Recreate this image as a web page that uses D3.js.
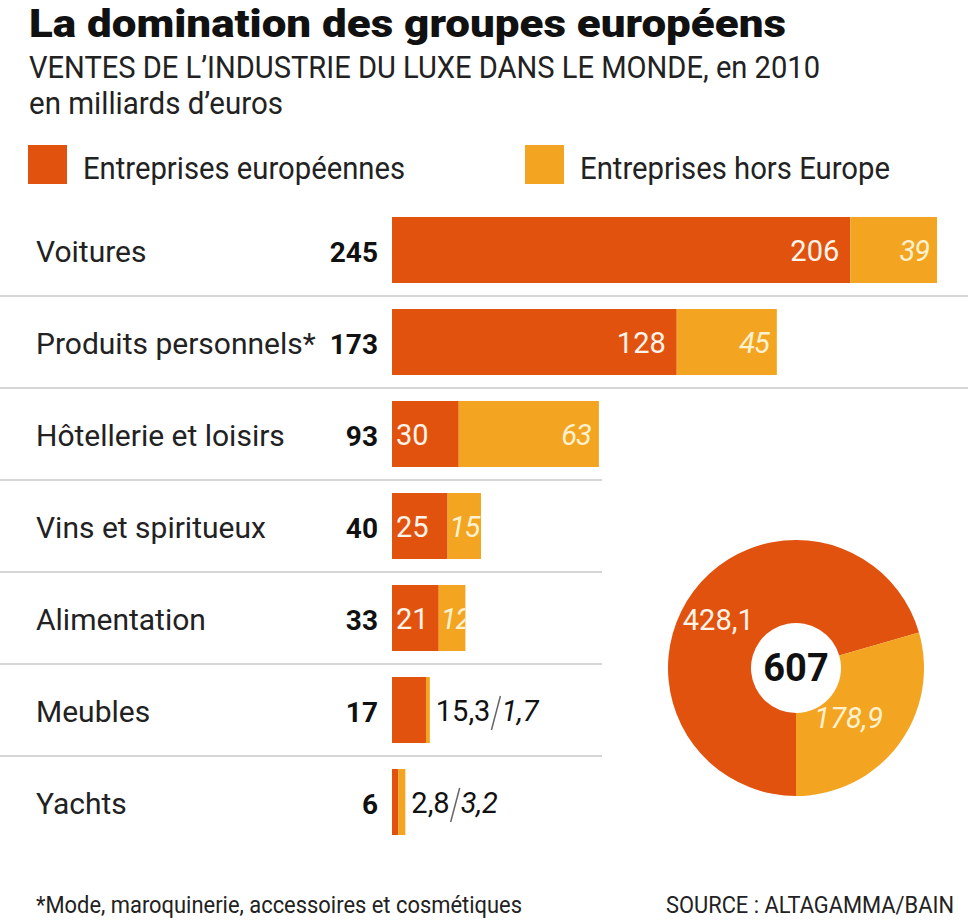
<!DOCTYPE html>
<html>
<head>
<meta charset="utf-8">
<script src="https://cdn.jsdelivr.net/npm/d3@7"></script>
<style>
  body { margin: 0; background: #fff; }
  svg text { font-family: Roboto, "Liberation Sans", sans-serif; }
</style>
</head>
<body>
<svg id="chart" width="968" height="921"></svg>
<script>
// data (milliards d'euros, 2010)
var categories = ["Voitures", "Produits personnels*", "Hôtellerie et loisirs", "Vins et spiritueux", "Alimentation", "Meubles", "Yachts"];
var totals = [245, 173, 93, 40, 33, 17, 6];
var europe = [206, 128, 30, 25, 21, 15.3, 2.8];
var horsEurope = [39, 45, 63, 15, 12, 1.7, 3.2];
var seriesNames = ["Entreprises européennes", "Entreprises hors Europe"];
var donutValues = [428.1, 178.9];
var donutTotal = 607;

var orange = "#e2520f", yellow = "#f3a521";
var fr = d3.formatLocale({decimal: ",", thousands: " ", grouping: [3], currency: ["", " €"]});
var fmt = function(v) { return Number.isInteger(v) ? String(v) : fr.format(".1f")(v); };

var svg = d3.select("#chart");

// header
svg.append("text").attr("x", 29).attr("y", 37)
    .attr("font-size", 38).attr("font-weight", 900).attr("fill", "#111")
    .attr("textLength", 757).attr("lengthAdjust", "spacingAndGlyphs")
    .text("La domination des groupes européens");
svg.append("text").attr("x", 29).attr("y", 78)
    .attr("font-size", 32).attr("fill", "#222")
    .attr("textLength", 791).attr("lengthAdjust", "spacingAndGlyphs")
    .text("VENTES DE L\u2019INDUSTRIE DU LUXE DANS LE MONDE, en 2010");
svg.append("text").attr("x", 29).attr("y", 114)
    .attr("font-size", 32).attr("fill", "#222")
    .attr("textLength", 254).attr("lengthAdjust", "spacingAndGlyphs")
    .text("en milliards d\u2019euros");

// legend
var legendX = [28, 525], legendW = [322, 310];
var legend = svg.selectAll("g.legend").data(seriesNames).enter().append("g")
    .attr("class", "legend")
    .attr("transform", function(d, i) { return "translate(" + legendX[i] + ",145)"; });
legend.append("rect").attr("width", 39).attr("height", 39)
    .attr("fill", function(d, i) { return i ? yellow : orange; });
legend.append("text").attr("x", 55).attr("y", 34)
    .attr("font-size", 31).attr("fill", "#222")
    .attr("textLength", function(d, i) { return legendW[i]; })
    .attr("lengthAdjust", "spacingAndGlyphs")
    .text(function(d) { return d; });

// scales
var x = d3.scaleLinear().domain([0, 245]).range([392, 937]);
var y = d3.scaleBand().domain(categories).range([204, 848])
    .paddingInner(26 / 92).paddingOuter(13 / 92);

var rows = categories.map(function(c, i) {
  return {cat: c, total: totals[i], eu: europe[i], he: horsEurope[i], i: i};
});

// separators (shorter next to the donut)
svg.selectAll("line.sep").data(rows.slice(0, 6)).enter().append("line")
    .attr("class", "sep")
    .attr("x1", 0)
    .attr("x2", function(d) { return d.i < 2 ? 968 : 602; })
    .attr("y1", function(d) { return y(d.cat) + y.bandwidth() + 13; })
    .attr("y2", function(d) { return y(d.cat) + y.bandwidth() + 13; })
    .attr("stroke", "#d4d6da").attr("stroke-width", 2);

var row = svg.selectAll("g.row").data(rows).enter().append("g").attr("class", "row");

row.append("text").attr("x", 36)
    .attr("y", function(d) { return y(d.cat) + y.bandwidth() / 2 + 12; })
    .attr("font-size", 30).attr("fill", "#222")
    .text(function(d) { return d.cat; });

row.append("text").attr("x", 378).attr("text-anchor", "end")
    .attr("y", function(d) { return y(d.cat) + y.bandwidth() / 2 + 12; })
    .attr("font-size", 28).attr("font-weight", 700).attr("fill", "#111")
    .text(function(d) { return d.total; });

// stacked bars
var segs = [];
rows.forEach(function(d) {
  segs.push({row: d, key: "eu", x0: 0, x1: d.eu, v: d.eu});
  segs.push({row: d, key: "he", x0: d.eu, x1: d.eu + d.he, v: d.he});
});

var defs = svg.append("defs");
segs.forEach(function(s, k) {
  defs.append("clipPath").attr("id", "clip" + k).append("rect")
      .attr("x", x(s.x0)).attr("y", y(s.row.cat))
      .attr("width", x(s.x1) - x(s.x0)).attr("height", y.bandwidth());
});

svg.selectAll("rect.seg").data(segs).enter().append("rect")
    .attr("class", "seg")
    .attr("x", function(s) { return x(s.x0); })
    .attr("y", function(s) { return y(s.row.cat); })
    .attr("width", function(s) { return x(s.x1) - x(s.x0); })
    .attr("height", y.bandwidth())
    .attr("fill", function(s) { return s.key === "eu" ? orange : yellow; });

// labels inside bars (wide enough rows)
var inside = segs.filter(function(s) { return x(s.row.total) - x(0) > 50; });
svg.selectAll("text.val").data(inside).enter().append("text")
    .attr("class", "val")
    .attr("clip-path", function(s) { return "url(#clip" + segs.indexOf(s) + ")"; })
    .attr("x", function(s) {
      var w = x(s.x1) - x(s.x0);
      return w > 80 ? x(s.x1) - (s.key === "eu" ? 11 : 8) : x(s.x0) + (s.key === "eu" ? 4 : 2);
    })
    .attr("text-anchor", function(s) { return x(s.x1) - x(s.x0) > 80 ? "end" : "start"; })
    .attr("y", function(s) { return y(s.row.cat) + y.bandwidth() / 2 + 11; })
    .attr("font-size", 29)
    .attr("font-style", function(s) { return s.key === "he" ? "italic" : "normal"; })
    .attr("letter-spacing", function(s) { return s.key === "he" ? -1 : 0; })
    .attr("fill", function(s) { return s.key === "eu" ? "#fff4ea" : "#fdf1cf"; })
    .text(function(s) { return fmt(s.v); });

// labels beside tiny bars: "eu / he"
var outside = rows.filter(function(d) { return x(d.total) - x(0) <= 50; });
outside.forEach(function(d) {
  var by = y(d.cat) + y.bandwidth() / 2 + 11;
  var t1 = svg.append("text").attr("x", x(d.total) + 6).attr("y", by)
      .attr("font-size", 29).attr("fill", "#111").text(fmt(d.eu));
  var x1 = x(d.total) + 6 + t1.node().getComputedTextLength();
  svg.append("line")
      .attr("x1", x1 + 1).attr("y1", by + 9)
      .attr("x2", x1 + 10).attr("y2", by - 25)
      .attr("stroke", "#666").attr("stroke-width", 1.5);
  svg.append("text").attr("x", x1 + 11).attr("y", by)
      .attr("font-size", 29).attr("font-style", "italic").attr("fill", "#111")
      .text(fmt(d.he));
});

// donut
var cx = 796, cy = 668, rOut = 128, rIn = 45;
var pie = d3.pie().sort(null).startAngle(Math.PI).endAngle(3 * Math.PI);
var arcs = pie(donutValues);
var arc = d3.arc().innerRadius(rIn).outerRadius(rOut);
var labelArc = d3.arc().innerRadius(86).outerRadius(86);
var donut = svg.append("g").attr("transform", "translate(" + cx + "," + cy + ")");
donut.selectAll("path").data(arcs).enter().append("path")
    .attr("d", arc)
    .attr("fill", function(d, i) { return i ? yellow : orange; });
donut.selectAll("text.dl").data(arcs).enter().append("text")
    .attr("class", "dl")
    .attr("transform", function(d, i) {
      var c = labelArc.centroid(d);
      return "translate(" + (c[0] + (i ? -16 : -9)) + "," + (c[1] + (i ? 8 : 14)) + ")";
    })
    .attr("text-anchor", "middle")
    .attr("font-size", 29)
    .attr("font-style", function(d, i) { return i ? "italic" : "normal"; })
    .attr("fill", function(d, i) { return i ? "#fdf1cf" : "#fff4ea"; })
    .text(function(d) { return fmt(d.data); });
donut.append("text").attr("text-anchor", "middle").attr("y", 13)
    .attr("font-size", 38).attr("font-weight", 700).attr("fill", "#111")
    .text(donutTotal);

// footer
svg.append("text").attr("x", 36).attr("y", 913)
    .attr("font-size", 23).attr("fill", "#222")
    .attr("textLength", 486).attr("lengthAdjust", "spacingAndGlyphs")
    .text("*Mode, maroquinerie, accessoires et cosmétiques");
svg.append("text").attr("x", 666).attr("y", 913)
    .attr("font-size", 23).attr("fill", "#222")
    .attr("textLength", 288).attr("lengthAdjust", "spacingAndGlyphs")
    .text("SOURCE : ALTAGAMMA/BAIN");
</script>
</body>
</html>
